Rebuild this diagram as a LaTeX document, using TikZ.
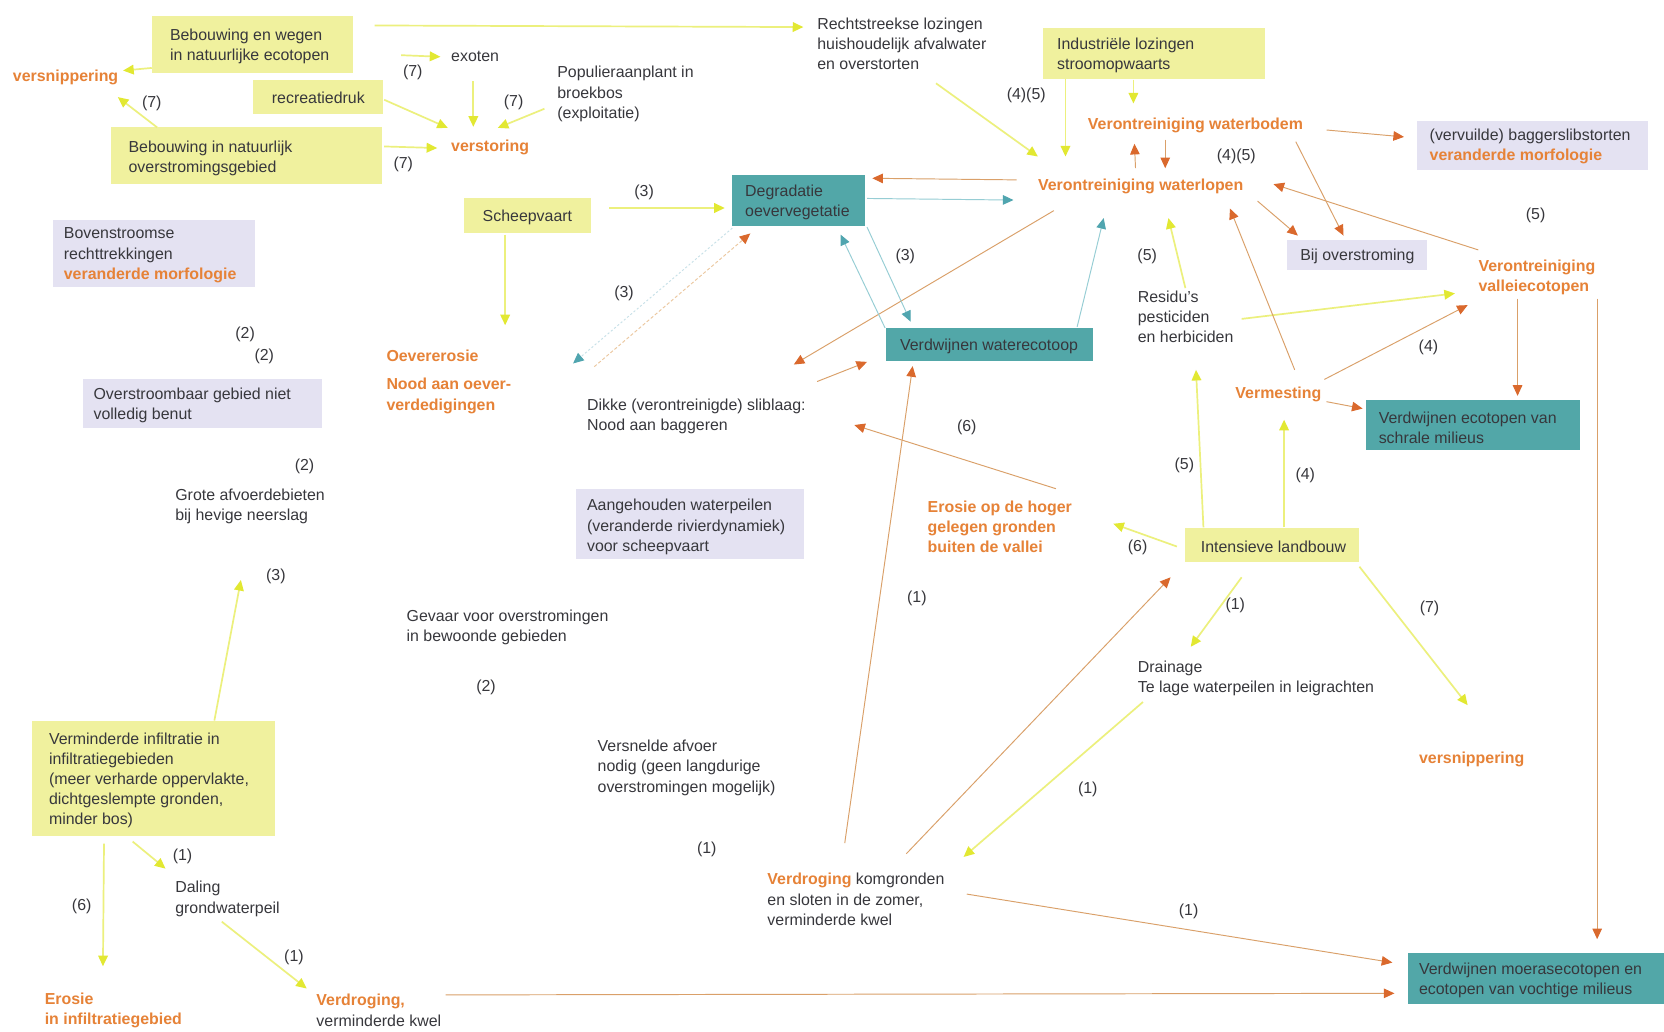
\documentclass[tikz,border=0pt]{standalone}
\usepackage{fontspec}
\setmainfont{Liberation Sans}
\usetikzlibrary{arrows.meta,calc}
\definecolor{yfill}{RGB}{240,241,158}
\definecolor{tfill}{RGB}{82,167,168}
\definecolor{lfill}{RGB}{228,226,242}
\definecolor{otext}{RGB}{230,130,55}
\definecolor{gtext}{RGB}{55,55,60}
\definecolor{yline}{RGB}{236,240,125}
\definecolor{yhead}{RGB}{226,232,50}
\definecolor{oline}{RGB}{218,160,105}
\definecolor{ohead}{RGB}{218,105,45}
\definecolor{tline}{RGB}{150,205,212}
\definecolor{thead}{RGB}{80,165,175}
\definecolor{ofaint}{RGB}{236,200,160}
\definecolor{tfaint}{RGB}{200,225,232}
\tikzset{
  txt/.style={inner sep=0pt, align=left, text=gtext, anchor=west, yshift=-1.5pt},
  otxt/.style={inner sep=0pt, align=left, text=otext, anchor=west, yshift=-1.5pt, font=\fontsize{15}{19}\selectfont\bfseries},
  lab/.style={inner sep=0pt, text=gtext, yshift=-1.5pt},
  ybox/.style={fill=yfill, inner sep=0pt},
  tbox/.style={fill=tfill, inner sep=0pt},
  lbox/.style={fill=lfill, inner sep=0pt},
  yarr/.style={draw=yline, line width=1.6pt, -{Triangle[length=10pt,width=9pt,color=yhead]}},
  oarr/.style={draw=oline, line width=0.9pt, -{Triangle[length=10pt,width=9pt,color=ohead]}},
  tarr/.style={draw=tline, line width=0.9pt, -{Triangle[length=10pt,width=9pt,color=thead]}}
}
\begin{document}
\begin{tikzpicture}[x=1pt, y=-1pt, font=\fontsize{15}{19}\selectfont]
\fill[white] (0,0) rectangle (1568,972);
\useasboundingbox (0,0) rectangle (1568,972);

% ---------- boxes ----------
\node[ybox, minimum width=190, minimum height=54] (B1) at (238,42) {};
\node[ybox, minimum width=123, minimum height=32] (recr) at (299.5,91) {};
\node[ybox, minimum width=255, minimum height=53] (B2) at (232.5,146.5) {};
\node[ybox, minimum width=209, minimum height=48] (indus) at (1087.5,50) {};
\node[lbox, minimum width=218, minimum height=46] (bagger) at (1444,137) {};
\node[tbox, minimum width=125, minimum height=48] (degr) at (752.5,189) {};
\node[ybox, minimum width=120, minimum height=33] (scheep) at (497,203.5) {};
\node[lbox, minimum width=190, minimum height=63] (boven) at (145,238.5) {};
\node[lbox, minimum width=132, minimum height=28] (bij) at (1279,240) {};
\node[tbox, minimum width=195, minimum height=31] (wecot) at (932.5,324.5) {};
\node[lbox, minimum width=225, minimum height=46] (overstr) at (190.5,380) {};
\node[tbox, minimum width=202, minimum height=47] (schrale) at (1388,400.5) {};
\node[lbox, minimum width=215, minimum height=66] (aang) at (650.5,494) {};
\node[ybox, minimum width=164, minimum height=32] (intens) at (1199,514) {};
\node[ybox, minimum width=229, minimum height=109] (vermind) at (144.5,733.5) {};
\node[tbox, minimum width=241, minimum height=48] (moeras) at (1447.5,922) {};

% ---------- box texts ----------
\node[txt] (B1t) at (160,42.5) {Bebouwing en wegen\\in natuurlijke ecotopen};
\node[lab] (recrt) at (300,91) {recreatiedruk};
\node[txt] (B2t) at (121,147.5) {Bebouwing in natuurlijk\\overstromingsgebied};
\node[txt] (indust) at (996,50.5) {Industriële lozingen\\stroomopwaarts};
\node[txt] (baggert) at (1347,136.5) {(vervuilde) baggerslibstorten\\\textcolor{otext}{\bfseries veranderde morfologie}};
\node[txt] (degrt) at (702,189.5) {Degradatie\\oevervegetatie};
\node[lab] (scheept) at (497,203) {Scheepvaart};
\node[txt] (bovent) at (60,239) {Bovenstroomse\\rechttrekkingen\\\textcolor{otext}{\bfseries veranderde morfologie}};
\node[lab] (bijt) at (1279,240) {Bij overstroming};
\node[lab] (wecott) at (932,325) {Verdwijnen waterecotoop};
\node[txt] (overstrt) at (88,380.5) {Overstroombaar gebied niet\\volledig benut};
\node[txt] (schralet) at (1299,401.5) {Verdwijnen ecotopen van\\schrale milieus};
\node[txt] (aangt) at (553,495) {Aangehouden waterpeilen\\(veranderde rivierdynamiek)\\voor scheepvaart};
\node[lab] (intenst) at (1200,514) {Intensieve landbouw};
\node[txt] (vermindt) at (46,734) {Verminderde infiltratie in\\infiltratiegebieden\\(meer verharde oppervlakte,\\dichtgeslempte gronden,\\minder bos)};
\node[txt] (moerast) at (1337,922.5) {Verdwijnen moerasecotopen en\\ecotopen van vochtige milieus};

% ---------- free texts ----------
\node[otxt] (vers1) at (12,71) {versnippering};
\node[txt] (exoten) at (425,52) {exoten};
\node[otxt] (verst) at (425,137) {verstoring};
\node[txt] (popul) at (525,87) {Populieraanplant in\\broekbos\\(exploitatie)};
\node[txt] (rechts) at (770,40) {Rechtstreekse lozingen\\huishoudelijk afvalwater\\en overstorten};
\node[otxt] (wbodem) at (1025,117) {Verontreiniging waterbodem};
\node[otxt] (wlopen) at (978,174) {Verontreiniging waterlopen};
\node[otxt] (vallei) at (1393,260) {Verontreiniging\\valleiecotopen};
\node[txt] (residu) at (1072,297) {Residu's\\pesticiden\\en herbiciden};
\node[otxt] (oever) at (364,334) {Oevererosie};
\node[otxt] (nood) at (364,371.5) {Nood aan oever-\\verdedigingen};
\node[otxt] (vermest) at (1164,370) {Vermesting};
\node[txt] (dikke) at (553,390.5) {Dikke (verontreinigde) sliblaag:\\Nood aan baggeren};
\node[txt] (grote) at (165,475.5) {Grote afvoerdebieten\\bij hevige neerslag};
\node[otxt] (erosieh) at (874,495) {Erosie op de hoger\\gelegen gronden\\buiten de vallei};
\node[txt] (gevaar) at (383,589.5) {Gevaar voor overstromingen\\in bewoonde gebieden};
\node[txt] (drain) at (1072,637.5) {Drainage\\Te lage waterpeilen in leigrachten};
\node[txt] (versnel) at (563,722) {Versnelde afvoer\\nodig (geen langdurige\\overstromingen mogelijk)};
\node[otxt] (vers2) at (1337,714) {versnippering};
\node[txt] (daling) at (165,845.5) {Daling\\grondwaterpeil};
\node[txt] (verdrk) at (723,846) {\textcolor{otext}{\bfseries Verdroging} komgronden\\en sloten in de zomer,\\verminderde kwel};
\node[otxt] (erosiei) at (42,950.5) {Erosie\\in infiltratiegebied};
\node[txt] (verdrv) at (298,950.5) {\textcolor{otext}{\bfseries Verdroging,}\\verminderde kwel};

% ---------- labels ----------
\node[lab] (l1) at (389,67) {(7)};
\node[lab] (l2) at (143,96) {(7)};
\node[lab] (l3) at (484,95) {(7)};
\node[lab] (l4) at (380,153) {(7)};
\node[lab] (l5) at (967,88) {(4)(5)};
\node[lab] (l6) at (1165,146) {(4)(5)};
\node[lab] (l7) at (607,180) {(3)};
\node[lab] (l8) at (853,240) {(3)};
\node[lab] (l9) at (588,275) {(3)};
\node[lab] (l10) at (260,542) {(3)};
\node[lab] (l11) at (1447,201) {(5)};
\node[lab] (l12) at (1081,240) {(5)};
\node[lab] (l13) at (1116,437) {(5)};
\node[lab] (l14) at (1346,326) {(4)};
\node[lab] (l15) at (1230,446) {(4)};
\node[lab] (l16) at (231,314) {(2)};
\node[lab] (l17) at (249,334) {(2)};
\node[lab] (l18) at (287,438) {(2)};
\node[lab] (l19) at (458,646) {(2)};
\node[lab] (l20) at (911,401) {(6)};
\node[lab] (l21) at (1072,514) {(6)};
\node[lab] (l22) at (77,853) {(6)};
\node[lab] (l23) at (864,562) {(1)};
\node[lab] (l24) at (1164,569) {(1)};
\node[lab] (l25) at (1025,742) {(1)};
\node[lab] (l26) at (666,799) {(1)};
\node[lab] (l27) at (172,805) {(1)};
\node[lab] (l28) at (1120,857) {(1)};
\node[lab] (l29) at (277,901) {(1)};
\node[lab] (l30) at (1347,572) {(7)};

% ---------- yellow connectors ----------
\draw[yarr] ($(B1)+(115,-18)$) -- ($(rechts.west)+(-13,-16)$);
\draw[yarr] ($(B1)+(140,10)$) -- ($(exoten.west)+(-10,0)$);
\draw[yarr] ($(B1)+(-95,22)$) -- ($(vers1.west)+(104,-6)$);
\draw[yarr] ($(B2)+(-84.5,-26.5)$) -- ($(vers1.west)+(99,19)$);
\draw[yarr] ($(recr)+(62.5,3)$) -- ($(verst.west)+(-3,-18)$);
\draw[yarr] ($(exoten.west)+(21,23)$) -- ($(verst.west)+(21,-19)$);
\draw[yarr] ($(popul.west)+(-12,14)$) -- ($(verst.west)+(44,-18)$);
\draw[yarr] ($(B2)+(129.5,-8.5)$) -- ($(verst.west)+(-13,1)$);
\draw[yarr] ($(rechts.west)+(112,37)$) -- ($(wlopen.west)+(0,-28)$);
\draw[yarr] ($(indus)+(-83.5,24)$) -- ($(wlopen.west)+(26,-28)$);
\draw[yarr] ($(indus)+(-19.5,25)$) -- ($(wbodem.west)+(43,-21)$);
\draw[yarr] ($(scheep)+(77,-7.5)$) -- ($(degr)+(-69.5,7)$);
\draw[yarr] ($(scheep)+(-21,17.5)$) -- ($(oever.west)+(112,-29)$);
\draw[yarr] ($(residu.west)+(45,-27)$) -- ($(wlopen.west)+(123,30)$);
\draw[yarr] ($(residu.west)+(98,2)$) -- ($(vallei.west)+(-22,15)$);
\draw[yarr] ($(intens)+(-65,-17)$) -- ($(residu.west)+(55,50)$);
\draw[yarr] ($(intens)+(11,-17)$) -- ($(vermest.west)+(46,24)$);
\draw[yarr] ($(intens)+(-90,1)$) -- ($(erosieh.west)+(175,-3)$);
\draw[yarr] ($(intens)+(-29,30)$) -- ($(drain.west)+(50,-29.5)$);
\draw[yarr] ($(intens)+(82,20)$) -- ($(vers2.west)+(46,-51)$);
\draw[yarr] ($(drain.west)+(5,22.5)$) -- ($(verdrk.west)+(185,-40)$);
\draw[yarr] ($(vermind)+(57.5,-54.5)$) -- ($(grote.west)+(62,69.5)$);
\draw[yarr] ($(vermind)+(-46.5,61.5)$) -- ($(erosiei.west)+(55,-41.5)$);
\draw[yarr] ($(vermind)+(-19.5,59.5)$) -- ($(daling.west)+(-9,-28.5)$);
\draw[yarr] ($(daling.west)+(44,21.5)$) -- ($(verdrv.west)+(-9,-20.5)$);

% ---------- orange connectors ----------
\draw[oarr] ($(wlopen.west)+(-20,-6)$) -- ($(degr)+(69.5,-21)$);
\draw[oarr] ($(wlopen.west)+(15,23)$) -- ($(dikke.west)+(195,-48.5)$);
\draw[oarr] ($(dikke.west)+(217,-32.5)$) -- ($(wecot)+(-115.5,16.5)$);
\draw[oarr, draw=ofaint, dash pattern=on 3pt off 2pt] ($(oever.west)+(196,10)$) -- ($(degr)+(-45.5,31)$);
\draw[oarr] ($(wlopen.west)+(92,-17)$) -- ($(wbodem.west)+(44,17)$);
\draw[oarr] ($(wbodem.west)+(73,13)$) -- ($(wlopen.west)+(120,-17)$);
\draw[oarr] ($(wbodem.west)+(225,4)$) -- ($(bagger)+(-121,-8)$);
\draw[oarr] ($(wbodem.west)+(196,15)$) -- ($(bij)+(-13,-18)$);
\draw[oarr] ($(wlopen.west)+(207,14)$) -- ($(bij)+(-56,-18)$);
\draw[oarr] ($(vallei.west)+(0,-26)$) -- ($(wlopen.west)+(222,-2)$);
\draw[oarr] ($(vermest.west)+(56,-23)$) -- ($(wlopen.west)+(181,21)$);
\draw[oarr] ($(vermest.west)+(84,-14)$) -- ($(vallei.west)+(-10,26)$);
\draw[oarr] ($(vermest.west)+(86,7)$) -- ($(schrale)+(-104,-15.5)$);
\draw[oarr] ($(vallei.west)+(37,20)$) -- ($(schrale)+(42,-27.5)$);
\draw[oarr] ($(vallei.west)+(112,20)$) -- ($(moeras)+(57.5,-37)$);
\draw[oarr] ($(erosieh.west)+(121,-36)$) -- ($(dikke.west)+(252,8.5)$);
\draw[oarr] ($(verdrk.west)+(73,-53)$) -- ($(wecot)+(-72.5,20.5)$);
\draw[oarr] ($(verdrk.west)+(131,-43)$) -- ($(intens)+(-96,30)$);
\draw[oarr] ($(verdrk.west)+(188,-5)$) -- ($(moeras)+(-135.5,-15)$);
\draw[oarr] ($(verdrv.west)+(122,-14.5)$) -- ($(moeras)+(-133.5,14)$);

% ---------- teal connectors ----------
\draw[tarr] ($(degr)+(64.5,-2)$) -- ($(wlopen.west)+(-23,13)$);
\draw[tarr] ($(degr)+(64.5,25)$) -- ($(wecot)+(-74.5,-21.5)$);
\draw[tarr] ($(wecot)+(-98.5,-15.5)$) -- ($(degr)+(39.5,32)$);
\draw[tarr] ($(wecot)+(82.5,-16.5)$) -- ($(wlopen.west)+(62,30)$);
\draw[tarr, draw=tfaint, dash pattern=on 2pt off 2pt] ($(degr)+(-62.5,26)$) -- ($(oever.west)+(176,7)$);
\end{tikzpicture}
\end{document}
